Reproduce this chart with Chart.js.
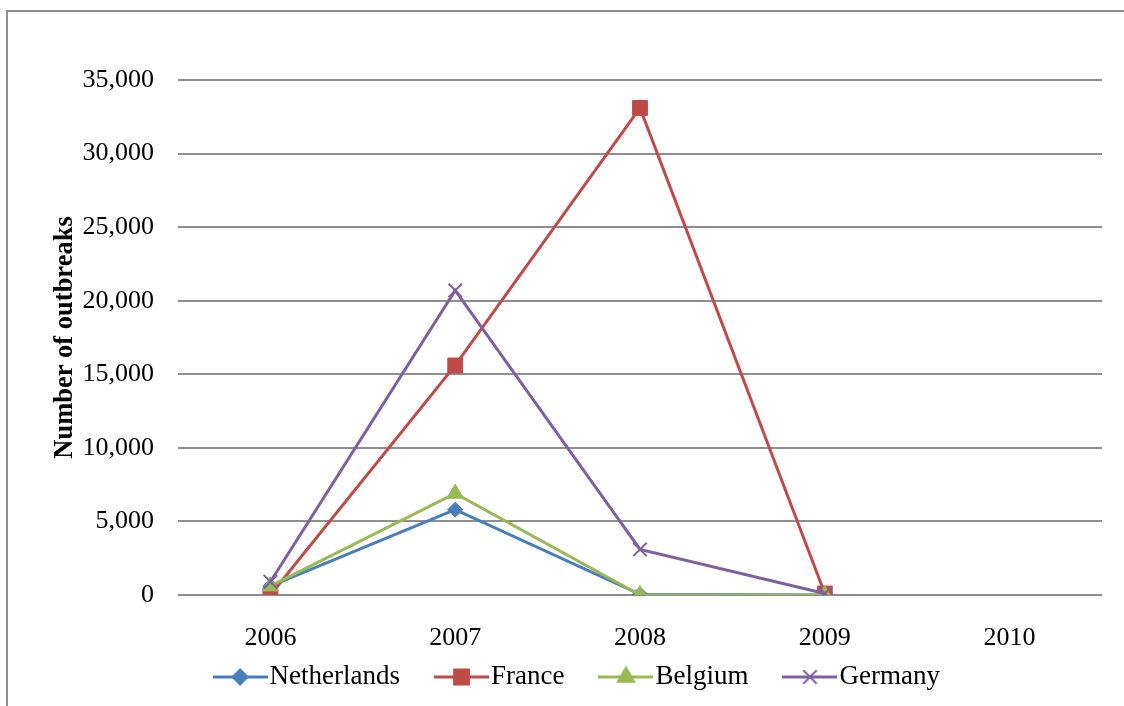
<!DOCTYPE html>
<html>
<head>
<meta charset="utf-8">
<script src="https://cdn.jsdelivr.net/npm/chart.js@4"></script>
<style>
html,body{margin:0;padding:0;background:#fff;overflow:hidden;}
#wrap{position:relative;width:1124px;height:706px;}
#frame{position:absolute;left:6px;top:10px;width:1300px;height:900px;border:2px solid #8e8e8e;box-sizing:border-box;}
canvas{position:absolute;left:0;top:0;}
</style>
</head>
<body>
<div id="wrap"><div id="frame"></div><canvas id="c" width="1124" height="706"></canvas></div>
<script>
const categories = ['2006', '2007', '2008', '2009', '2010'];
const netherlands = [600, 5800, 50, 0, null];
const france = [0, 15600, 33100, 100, null];
const belgium = [600, 6900, 0, 0, null];
const germany = [900, 20700, 3100, 100, null];
const seriesNames = ['Netherlands', 'France', 'Belgium', 'Germany'];
const yMax = 35000;
const yStep = 5000;

const colors = ['#4A7EBB', '#BE4B48', '#98B954', '#7D60A0'];
const styles = ['rectRot', 'rect', 'triangle', 'crossRot'];
const radii = [7.5, 10.5, 9.5, 9.5];
const FONT = 'Liberation Serif, Times New Roman, serif';

function legendImage(i) {
  const cv = document.createElement('canvas');
  cv.width = 55; cv.height = 22;
  const g = cv.getContext('2d');
  g.strokeStyle = colors[i]; g.lineWidth = 3;
  g.beginPath(); g.moveTo(0, 11); g.lineTo(55, 11); g.stroke();
  g.fillStyle = colors[i]; g.lineWidth = 2;
  Chart.helpers.drawPoint(g, {pointStyle: styles[i], radius: radii[i], borderWidth: 2, rotation: 0}, 27.5, 11);
  return cv;
}

const dataArrays = [netherlands, france, belgium, germany];
const orders = [4, 3, 2, 1];
const datasets = dataArrays.map((d, i) => ({
  label: seriesNames[i],
  data: d,
  borderColor: colors[i],
  backgroundColor: colors[i],
  pointBackgroundColor: colors[i],
  pointBorderColor: colors[i],
  pointStyle: styles[i],
  pointRadius: radii[i],
  pointBorderWidth: styles[i] === 'crossRot' ? 2 : 1,
  borderWidth: 3,
  tension: 0,
  order: orders[i],
  spanGaps: false
}));

const legendShift = {
  id: 'legendShift',
  afterLayout(chart) {
    const lg = chart.legend;
    if (lg) {
      lg.left += 31; lg.right += 31;
      lg.top -= 37; lg.height += 37;
    }
  }
};

new Chart(document.getElementById('c'), {
  type: 'line',
  data: { labels: categories, datasets },
  plugins: [legendShift],
  options: {
    responsive: false,
    animation: false,
    events: [],
    layout: { padding: { top: 80, right: 22, left: 0, bottom: 4 } },
    plugins: {
      tooltip: { enabled: false },
      legend: {
        position: 'bottom',
        maxHeight: 47,
        labels: {
          usePointStyle: true,
          pointStyleWidth: 32,
          padding: 45.5,
          color: '#000',
          font: { family: FONT, size: 27 },
          generateLabels: (chart) => chart.data.datasets.map((ds, i) => ({
            text: ds.label,
            pointStyle: legendImage(i),
            fillStyle: colors[i],
            strokeStyle: colors[i],
            lineWidth: 0,
            hidden: false,
            datasetIndex: i,
            fontColor: '#000'
          }))
        }
      }
    },
    scales: {
      x: {
        offset: true,
        grid: { display: false, drawTicks: false },
        border: { display: false },
        ticks: { color: '#000', font: { family: FONT, size: 26 }, padding: 28, maxRotation: 0 },
        afterFit: (s) => { s.height = 60; }
      },
      y: {
        min: 0, max: yMax,
        grid: { color: '#8e8e8e', lineWidth: 2, drawTicks: false },
        border: { display: false },
        ticks: {
          stepSize: yStep, padding: 24, color: '#000',
          font: { family: FONT, size: 26 },
          callback: (v) => v.toLocaleString('en-US')
        },
        title: {
          display: true, text: 'Number of outbreaks', color: '#000',
          font: { family: FONT, size: 26.5, weight: 'bold' },
          padding: { top: 49, bottom: 0 }
        },
        afterFit: (s) => { s.width = 178; }
      }
    }
  }
});
</script>
</body>
</html>
